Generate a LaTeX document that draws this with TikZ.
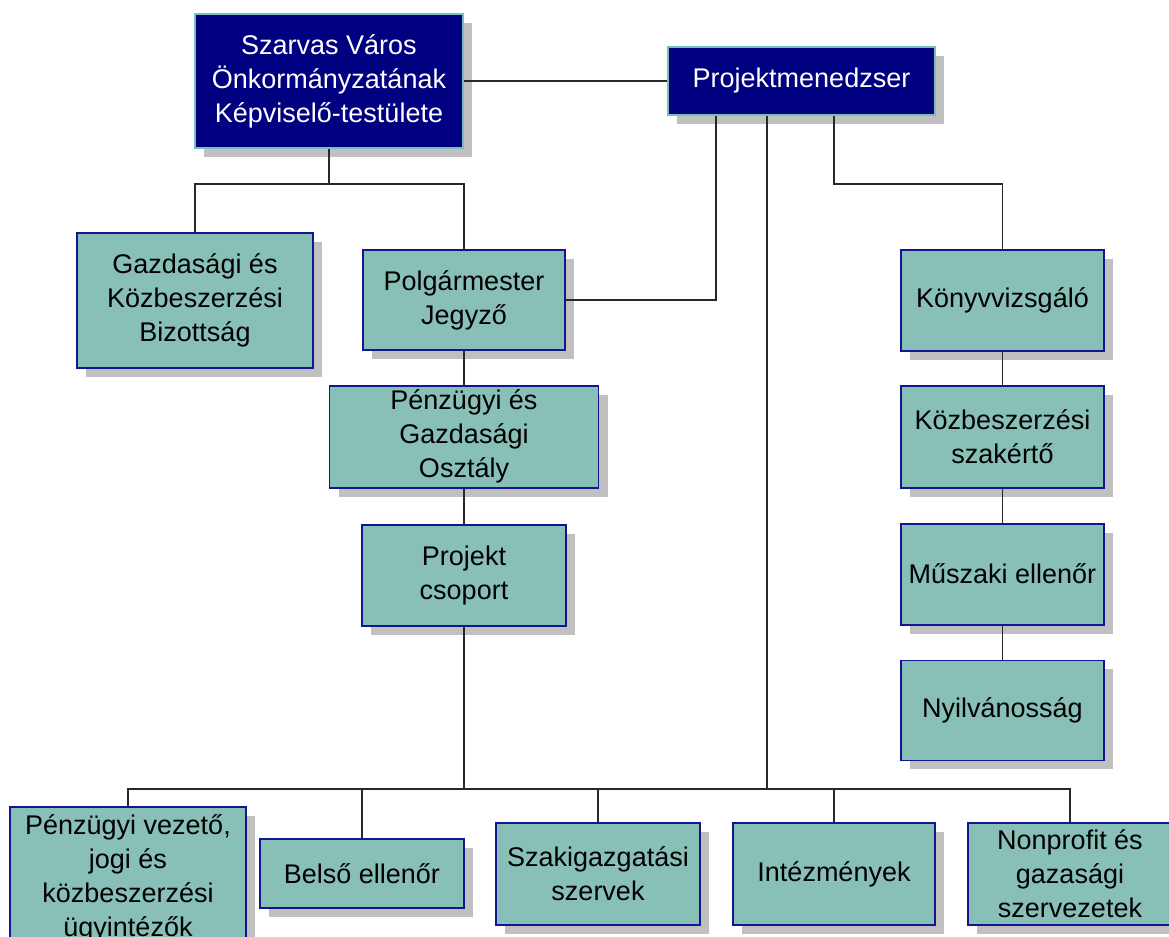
\documentclass[tikz,border=0pt]{standalone}
\usepackage{fontspec}
\setmainfont{Liberation Sans}
\usepackage{xcolor}
\usepackage{tikz}
\usetikzlibrary{positioning, calc, shadows}
\definecolor{navybox}{RGB}{0,0,128}
\definecolor{navyedge}{RGB}{120,190,190}
\definecolor{tealbox}{RGB}{136,192,184}
\definecolor{tealedge}{RGB}{20,20,150}
\definecolor{shadowgray}{RGB}{192,192,192}
\definecolor{wire}{RGB}{40,40,40}
\tikzset{headbox/.style={rectangle,draw=navyedge,line width=0.8pt,fill=navybox,text=white,align=center,inner sep=1pt,
           font=\fontsize{13.5}{17}\selectfont,drop shadow={shadow xshift=4.5pt,shadow yshift=-4.5pt,fill=shadowgray,opacity=1}},
         unitbox/.style={rectangle,draw=tealedge,line width=0.9pt,fill=tealbox,text=black,align=center,inner sep=1pt,
           font=\fontsize{13.5}{17}\selectfont,drop shadow={shadow xshift=4.5pt,shadow yshift=-4.5pt,fill=shadowgray,opacity=1}},
         link/.style={draw=wire,line width=0.8pt}}

\begin{document}
\begin{tikzpicture}[x=0.5pt,y=-0.5pt]
    \useasboundingbox (0,0) rectangle (1169,937);
    \node (board) [headbox, minimum width=134pt, minimum height=67pt] at (329,81) {Szarvas Város\\Önkormányzatának\\Képviselő-testülete};
    \node (pm) [headbox, minimum width=133.5pt, minimum height=34pt] at (801.5,81) {Projektmenedzser};
    \node (bizott) [unitbox, minimum width=118pt, minimum height=67.5pt] at (195,300.5) {Gazdasági és\\Közbeszerzési\\Bizottság};
    \node (polg) [unitbox, minimum width=101pt, minimum height=50pt] at (464,300) {Polgármester\\Jegyző};
    \node (oszt) [unitbox, minimum width=134.5pt, minimum height=51pt, below=17pt of polg] {Pénzügyi és\\Gazdasági\\Osztály};
    \node (csop) [unitbox, minimum width=102pt, minimum height=50.5pt, below=17.5pt of oszt] {Projekt\\csoport};
    \node (konyv) [unitbox, minimum width=101.5pt, minimum height=50.5pt] at (1002.5,300.5) {Könyvvizsgáló};
    \node (kozb) [unitbox, minimum width=101.5pt, minimum height=51pt, below=16.5pt of konyv] {Közbeszerzési\\szakértő};
    \node (musz) [unitbox, minimum width=101.5pt, minimum height=50.5pt, below=17pt of kozb] {Műszaki ellenőr};
    \node (nyilv) [unitbox, minimum width=101.5pt, minimum height=50pt, below=17pt of musz] {Nyilvánosság};
    \node (penz) [unitbox, minimum width=118pt, minimum height=71pt] at (128,878) {Pénzügyi vezető,\\jogi és\\közbeszerzési\\ügyintézők};
    \node (belso) [unitbox, minimum width=102pt, minimum height=34.5pt] at (362,873.5) {Belső ellenőr};
    \node (szak) [unitbox, minimum width=102pt, minimum height=51pt] at (598,874) {Szakigazgatási\\szervek};
    \node (intez) [unitbox, minimum width=101pt, minimum height=51pt] at (834,874) {Intézmények};
    \node (nonpr) [unitbox, minimum width=102pt, minimum height=51pt] at (1070,874) {Nonprofit és\\gazasági\\szervezetek};
    \coordinate (bus) at (767,789);
    \draw[link] (board.east) -- (pm.west);
    \draw[link] (board.south) -- ++(0,35) coordinate (split) -| (bizott.north);
    \draw[link] (split) -| (polg.north);
    \draw[link] ([xshift=-42.75pt]pm.south) |- (polg.east);
    \draw[link] ([xshift=16.25pt]pm.south) -- ++(0,68) -| (konyv.north);
    \draw[link] (pm.south -| bus) -- (bus);
    \draw[link] (polg) -- (oszt);
    \draw[link] (oszt) -- (csop);
    \draw[link] (csop.south) -- (csop.south |- bus);
    \draw[link] (konyv) -- (kozb);
    \draw[link] (kozb) -- (musz);
    \draw[link] (musz) -- (nyilv);
    \draw[link] (penz.north) -- (penz.north |- bus) -- (nonpr.north |- bus) -- (nonpr.north);
    \foreach \unit in {belso,szak,intez}
      \draw[link] (\unit.north) -- (\unit.north |- bus);
\end{tikzpicture}
\end{document}
